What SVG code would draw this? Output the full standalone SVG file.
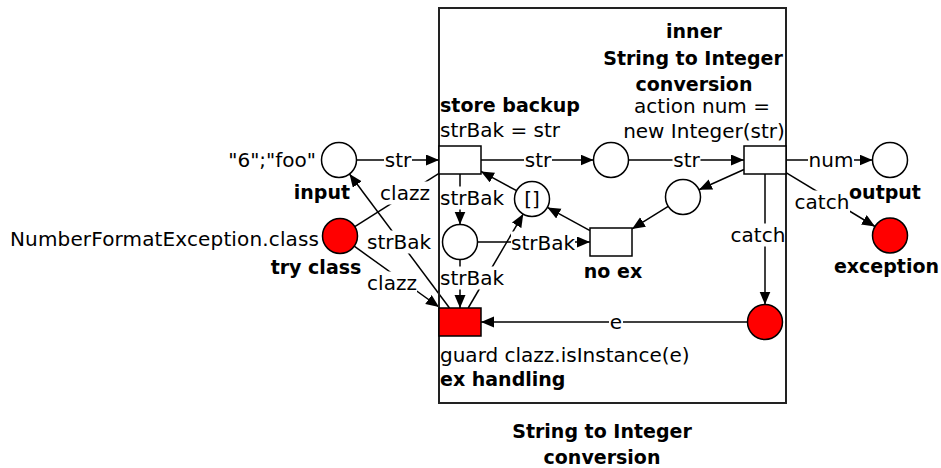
<svg xmlns="http://www.w3.org/2000/svg" width="941" height="468" viewBox="0 0 941 468">
<style>
text{font-family:"DejaVu Sans","Liberation Sans",sans-serif;font-size:20px;fill:#000}
.b{font-weight:bold;font-size:19px}
.m{text-anchor:middle}
.e{text-anchor:end}
.arc{stroke:#000;stroke-width:1.5;fill:none}
.head{marker-end:url(#ah)}
.lbg{fill:#fff}
.pl{fill:#fff;stroke:#000;stroke-width:1.5}
.tr{fill:#fff;stroke:#000;stroke-width:1.5}
.red{fill:#ff0000}
.box{fill:none;stroke:#222;stroke-width:2}
</style>
<defs>
<marker id="ah" markerUnits="userSpaceOnUse" markerWidth="14" markerHeight="12" refX="13" refY="5.5" orient="auto">
<path d="M0,0 L13,5.5 L0,11 z" fill="#000"/>
</marker>
</defs>
<rect x="0" y="0" width="941" height="468" fill="#fff"/>

<g id="connectors">
<line class="arc head" x1="356.5" y1="160" x2="439" y2="160"/>
<line class="arc head" x1="481" y1="160" x2="593.5" y2="160"/>
<line class="arc head" x1="628.5" y1="160" x2="744" y2="160"/>
<line class="arc head" x1="786" y1="160" x2="872.5" y2="160"/>
<line class="arc head" x1="786" y1="172.7" x2="875" y2="226.5"/>
<line class="arc head" x1="765" y1="174" x2="765" y2="304.5"/>
<line class="arc head" x1="744" y1="169.5" x2="699" y2="189.8"/>
<line class="arc head" x1="668.2" y1="206.3" x2="632" y2="228.9"/>
<line class="arc head" x1="590" y1="230.6" x2="547.4" y2="207.4"/>
<line class="arc head" x1="516.6" y1="190.7" x2="481" y2="171.4"/>
<line class="arc head" x1="460" y1="174" x2="460" y2="224.5"/>
<line class="arc head" x1="460" y1="259.5" x2="460" y2="308"/>
<line class="arc head" x1="477.5" y1="242" x2="590" y2="242"/>
<line class="arc head" x1="468.2" y1="308" x2="523.2" y2="214.1"/>
<line class="arc head" x1="449.5" y1="308" x2="349.5" y2="174"/>
<line class="arc head" x1="354.2" y1="246.2" x2="439" y2="307"/>
<line class="arc" x1="354.8" y1="226.6" x2="439" y2="173.3"/>
<line class="arc head" x1="747.5" y1="322" x2="481" y2="322"/>

<g id="lbl-str1"><rect class="lbg" x="384" y="148.5" width="28" height="23"/><text class="m" x="398" y="167">str</text></g>
<g id="lbl-str2"><rect class="lbg" x="524" y="148.5" width="28" height="23"/><text class="m" x="538" y="167">str</text></g>
<g id="lbl-str3"><rect class="lbg" x="672.5" y="148.5" width="28" height="23"/><text class="m" x="686.5" y="167">str</text></g>
<g id="lbl-num"><rect class="lbg" x="808" y="148.5" width="46" height="23"/><text class="m" x="831" y="167">num</text></g>
<g id="lbl-catch1"><rect class="lbg" x="794" y="190.5" width="56" height="23"/><text class="m" x="822" y="209">catch</text></g>
<g id="lbl-catch2"><rect class="lbg" x="730" y="223.5" width="56" height="23"/><text class="m" x="758" y="242">catch</text></g>
<g id="lbl-strBak1"><rect class="lbg" x="440" y="186.5" width="64" height="23"/><text class="m" x="472" y="205">strBak</text></g>
<g id="lbl-strBak2"><rect class="lbg" x="440" y="266.5" width="64" height="23"/><text class="m" x="472" y="285">strBak</text></g>
<g id="lbl-strBak3"><rect class="lbg" x="511" y="231.5" width="64" height="23"/><text class="m" x="543" y="250">strBak</text></g>
<g id="lbl-strBak4"><rect class="lbg" x="367" y="230.5" width="64" height="23"/><text class="m" x="399" y="249">strBak</text></g>
<g id="lbl-clazz1"><rect class="lbg" x="366" y="271.5" width="51" height="23"/><text class="m" x="392" y="290">clazz</text></g>
<g id="lbl-clazz2"><rect class="lbg" x="379" y="181.5" width="51" height="23"/><text class="m" x="405" y="200">clazz</text></g>
<g id="lbl-e"><rect class="lbg" x="609" y="310.5" width="14" height="23"/><text class="m" x="616" y="329">e</text></g>
</g>

<g id="subnet">
<rect class="box" x="439" y="8" width="347" height="395"/>
<text class="b m" x="602" y="438">String to Integer</text>
<text class="b m" x="602" y="464">conversion</text>
</g>

<g id="input">
<circle class="pl" cx="339" cy="160" r="17.5"/>
<text class="e" x="316" y="167">"6";"foo"</text>
<text class="b e" x="350" y="199">input</text>
</g>
<g id="try-class">
<circle class="pl red" cx="340" cy="236" r="17.5"/>
<text class="e" x="319" y="246" textLength="309" lengthAdjust="spacing">NumberFormatException.class</text>
<text class="b m" x="316" y="274">try class</text>
</g>
<g id="store-backup">
<rect class="tr" x="439" y="146" width="42" height="28"/>
<text class="b" x="440" y="112">store backup</text>
<text x="440" y="137">strBak = str</text>
</g>
<g id="p-str">
<circle class="pl" cx="611" cy="160" r="17.5"/>
</g>
<g id="inner">
<rect class="tr" x="744" y="146" width="42" height="28"/>
<text class="b m" x="694" y="38">inner</text>
<text class="b m" x="693" y="65">String to Integer</text>
<text class="b m" x="694" y="91">conversion</text>
<text class="m" x="702" y="113">action num =</text>
<text class="m" x="704" y="138">new Integer(str)</text>
</g>
<g id="p-empty">
<circle class="pl" cx="532" cy="199" r="17.5"/>
<text class="m" x="532" y="206">[]</text>
</g>
<g id="p-ok">
<circle class="pl" cx="683" cy="197" r="17.5"/>
</g>
<g id="p-strBak">
<circle class="pl" cx="460" cy="242" r="17.5"/>
</g>
<g id="no-ex">
<rect class="tr" x="590" y="228" width="42" height="28"/>
<text class="b m" x="613" y="278">no ex</text>
</g>
<g id="ex-handling">
<rect class="tr red" x="439" y="308" width="42" height="28"/>
<text x="440" y="362">guard clazz.isInstance(e)</text>
<text class="b" x="440" y="386">ex handling</text>
</g>
<g id="p-caught">
<circle class="pl red" cx="765" cy="322" r="17.5"/>
</g>
<g id="output">
<circle class="pl" cx="890" cy="160" r="17.5"/>
<text class="b m" x="885" y="199">output</text>
</g>
<g id="exception">
<circle class="pl red" cx="890" cy="235.5" r="17.5"/>
<text class="b e" x="939" y="273">exception</text>
</g>
</svg>
